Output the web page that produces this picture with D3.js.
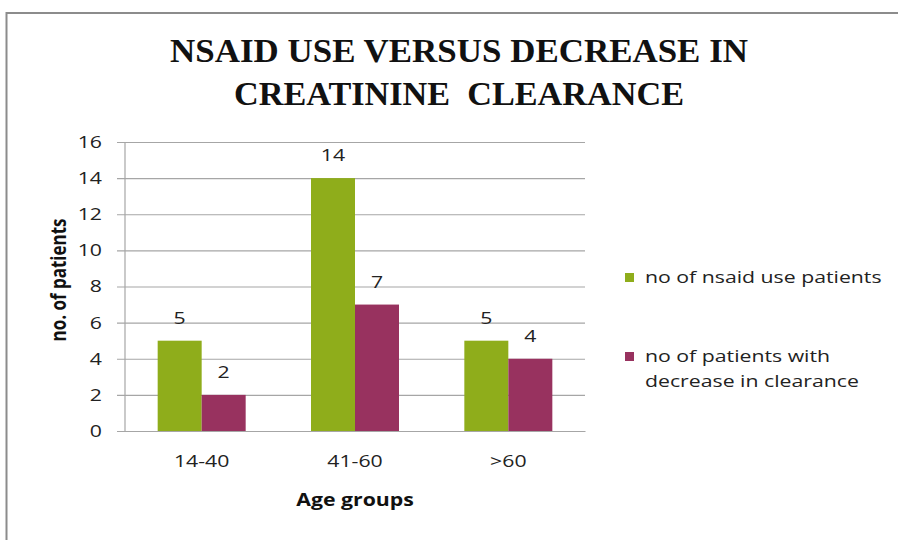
<!DOCTYPE html>
<html>
<head>
<meta charset="utf-8">
<script src="https://cdn.jsdelivr.net/npm/d3@7"></script>
<style>
  body { margin: 0; background: #fff; }
  svg { display: block; }
</style>
</head>
<body>
<div id="chart"></div>
<script>
var width = 898,
    height = 540;

// data
const ageGroups = ["14-40", "41-60", ">60"];
const seriesNames = ["no of nsaid use patients", "no of patients with decrease in clearance"];
const nsaidUse = [5, 14, 5];
const decreased = [2, 7, 4];
const yTicks = [0, 2, 4, 6, 8, 10, 12, 14, 16];

const colors = ["#8fad1b", "#98325f"];

var plot = {left: 125, right: 585, top: 142, bottom: 431};
var stretch = 1.25;   // the original picture is stretched sideways

var svg = d3.select("#chart")
    .append("svg")
    .attr("width", width)
    .attr("height", height);

// outer frame (only top and left edges show)
svg.append("path")
    .attr("d", "M6.5,540 L6.5,13 L900,13")
    .attr("fill", "none")
    .attr("stroke", "#8c8c8c")
    .attr("stroke-width", 2);

// title
var titleLines = [
    {text: "NSAID USE VERSUS DECREASE IN", y: 62, len: 578},
    {text: "CREATININE  CLEARANCE", y: 105, len: 450}
];
svg.selectAll(".title")
    .data(titleLines)
    .enter().append("text")
    .attr("class", "title")
    .attr("x", 459)
    .attr("y", d => d.y)
    .attr("text-anchor", "middle")
    .attr("textLength", d => d.len)
    .attr("lengthAdjust", "spacingAndGlyphs")
    .style("font-family", "'Liberation Serif', 'Times New Roman', serif")
    .style("font-weight", "bold")
    .style("font-size", "33px")
    .style("white-space", "pre")
    .attr("fill", "#111")
    .text(d => d.text);

var xScale = d3.scaleBand()
    .domain(ageGroups)
    .range([plot.left, plot.right]);

var innerGap = (xScale.bandwidth() - 88) / 2;
var xInner = d3.scaleBand()
    .domain([0, 1])
    .range([innerGap, xScale.bandwidth() - innerGap]);

var yScale = d3.scaleLinear()
    .domain([0, 16])
    .range([plot.bottom, plot.top]);

function sansText(sel, size) {
    sel.style("font-family", "'Open Sans', sans-serif")
        .style("font-size", size + "px")
        .attr("fill", "#222");
}

// gridlines + y axis
var yAxis = d3.axisLeft(yScale)
    .tickValues(yTicks)
    .tickSize(-(plot.right - plot.left))
    .tickPadding(23 / stretch)
    .tickFormat(d3.format("d"));

var gy = svg.append("g")
    .attr("transform", "translate(" + plot.left + ",0)")
    .call(yAxis);

gy.select(".domain").remove();
gy.selectAll(".tick line")
    .attr("x1", -8)
    .attr("stroke", "#a6a6a6")
    .attr("stroke-width", 1.2);
gy.selectAll(".tick text")
    .call(sansText, 17)
    .attr("transform", "scale(" + stretch + ",1)");

svg.append("line")
    .attr("x1", plot.left).attr("x2", plot.left)
    .attr("y1", plot.top).attr("y2", plot.bottom)
    .attr("stroke", "#a6a6a6")
    .attr("stroke-width", 1.2);

// x axis
var xAxis = d3.axisBottom(xScale).tickSize(0).tickPadding(24);
var gx = svg.append("g")
    .attr("transform", "translate(0," + plot.bottom + ")")
    .call(xAxis);
gx.select(".domain").attr("stroke", "#a6a6a6").attr("stroke-width", 1.2);
gx.selectAll(".tick text")
    .call(sansText, 17)
    .attr("transform", "scale(" + stretch + ",1)");

// bars
var tableData = ageGroups.map((g, i) => ({group: g, values: [nsaidUse[i], decreased[i]]}));

var groups = svg.selectAll(".group")
    .data(tableData)
    .enter().append("g")
    .attr("class", "group")
    .attr("transform", d => "translate(" + xScale(d.group) + ",0)");

groups.selectAll("rect")
    .data(d => d.values.map((v, k) => ({k: k, value: v})))
    .enter().append("rect")
    .attr("x", d => xInner(d.k))
    .attr("width", xInner.bandwidth())
    .attr("y", d => yScale(d.value))
    .attr("height", d => plot.bottom - yScale(d.value))
    .attr("fill", d => colors[d.k]);

groups.selectAll(".val")
    .data(d => d.values.map((v, k) => ({k: k, value: v})))
    .enter().append("text")
    .attr("class", "val")
    .attr("transform", d => "translate(" + (xInner(d.k) + xInner.bandwidth() / 2) + "," +
        (yScale(d.value) - 17) + ") scale(" + stretch + ",1)")
    .attr("text-anchor", "middle")
    .call(sansText, 17)
    .text(d => d.value);

// axis titles
svg.append("text")
    .attr("transform", "translate(" + (plot.left + plot.right) / 2 + ",506) scale(" + stretch + ",1)")
    .attr("text-anchor", "middle")
    .call(sansText, 17)
    .style("font-weight", "bold")
    .attr("fill", "#111")
    .text("Age groups");

svg.append("text")
    .attr("transform", "translate(66,280) scale(" + stretch + ",1) rotate(-90)")
    .attr("text-anchor", "middle")
    .call(sansText, 17)
    .style("font-weight", "bold")
    .attr("fill", "#111")
    .text("no. of patients");

// legend
var legendItems = [
    {lines: [seriesNames[0]], y: 277},
    {lines: ["no of patients with", "decrease in clearance"], y: 356}
];
var legend = svg.selectAll(".legend")
    .data(legendItems)
    .enter().append("g")
    .attr("class", "legend")
    .attr("transform", d => "translate(625," + d.y + ")");

legend.append("rect")
    .attr("x", 0)
    .attr("y", -4)
    .attr("width", 9)
    .attr("height", 9)
    .attr("fill", (d, i) => colors[i]);

legend.selectAll("text")
    .data(d => d.lines)
    .enter().append("text")
    .attr("transform", (d, i) => "translate(20," + (i * 25 + 6) + ") scale(" + stretch + ",1)")
    .call(sansText, 17)
    .text(d => d);
</script>
</body>
</html>
